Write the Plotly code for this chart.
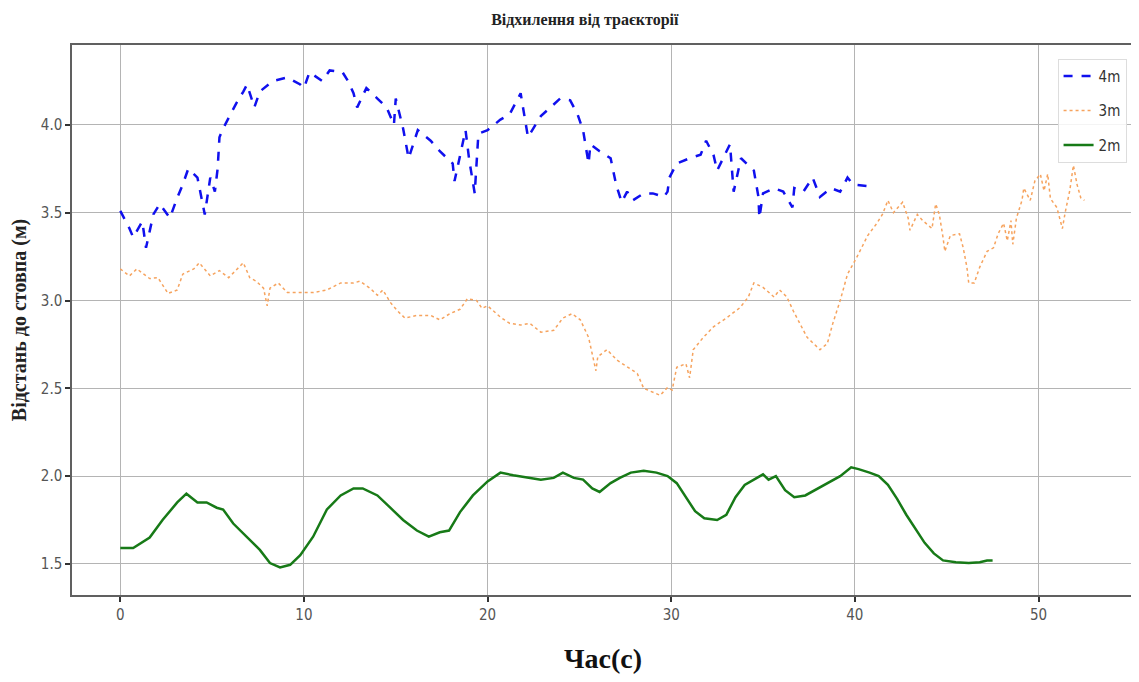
import plotly.graph_objects as go

# ---- data ----
t_4m = [0.0, 0.5, 0.7, 1.2, 1.4, 1.8, 2.15, 2.7, 3.1, 3.4, 3.7, 4.2, 4.6, 4.9, 5.15, 5.3, 5.4, 5.6, 6.0, 6.3,
        6.7, 6.9, 7.3, 7.6, 8.3, 9.1, 9.8, 10.0, 10.3, 11.0, 11.4, 12.1, 12.4, 12.7, 12.9, 13.4, 14.0, 14.5,
        14.9, 15.0, 15.4, 15.7, 16.2, 16.9, 17.4, 18.1, 18.2, 18.8, 19.0, 19.3, 19.5, 20.0, 20.7, 21.2, 21.8,
        22.2, 22.9, 23.4, 23.95, 24.5, 24.9, 25.2, 25.5, 25.6, 26.1, 26.7, 27.0, 27.3, 27.6, 27.9, 28.5, 29.0,
        29.6, 29.8, 29.9, 30.3, 31.0, 31.6, 31.9, 32.3, 32.5, 33.2, 33.4, 33.8, 34.5, 34.75, 34.8, 35.0, 35.6,
        36.1, 36.6, 36.7, 37.2, 37.7, 38.1, 38.7, 39.2, 39.6, 39.9, 40.8]
d_4m = [3.51, 3.41, 3.36, 3.45, 3.30, 3.49, 3.55, 3.47, 3.585, 3.66, 3.75, 3.70, 3.49, 3.70, 3.62, 3.75, 3.93,
        3.98, 4.06, 4.12, 4.19, 4.23, 4.10, 4.19, 4.25, 4.27, 4.23, 4.21, 4.30, 4.25, 4.31, 4.30, 4.25, 4.18,
        4.10, 4.21, 4.15, 4.10, 4.00, 4.15, 3.98, 3.81, 3.97, 3.91, 3.85, 3.78, 3.68, 3.97, 3.80, 3.61, 3.95,
        3.97, 4.03, 4.06, 4.18, 3.93, 4.05, 4.10, 4.15, 4.14, 4.06, 3.97, 3.78, 3.89, 3.85, 3.81, 3.66, 3.56,
        3.62, 3.57, 3.61, 3.61, 3.59, 3.62, 3.70, 3.78, 3.81, 3.83, 3.91, 3.83, 3.74, 3.89, 3.62, 3.81, 3.74,
        3.59, 3.47, 3.61, 3.64, 3.62, 3.53, 3.64, 3.62, 3.70, 3.59, 3.64, 3.62, 3.70, 3.66, 3.65]

t_3m = [0.0, 0.5, 0.9, 1.6, 2.05, 2.6, 3.1, 3.4, 4.0, 4.3, 4.9, 5.4, 5.9, 6.3, 6.7, 7.05, 7.4, 7.8, 8.0, 8.15,
        8.6, 9.1, 9.8, 10.5, 11.25, 12.0, 12.7, 13.05, 13.6, 14.0, 14.3, 14.7, 15.1, 15.5, 16.15, 16.9, 17.4,
        17.95, 18.5, 18.9, 19.4, 19.7, 20.0, 20.7, 21.2, 21.8, 22.3, 22.9, 23.6, 24.1, 24.6, 25.05, 25.5, 25.9,
        26.0, 26.5, 27.05, 27.6, 28.15, 28.5, 29.0, 29.4, 29.8, 30.05, 30.3, 30.8, 31.0, 31.2, 31.75, 32.3,
        33.0, 33.75, 34.2, 34.5, 35.0, 35.6, 35.9, 36.3, 36.65, 37.0, 37.4, 37.75, 38.1, 38.5, 38.8, 39.2,
        39.6, 40.1, 40.7, 41.2, 41.5, 41.8, 42.1, 42.6, 42.9, 43.0, 43.4, 43.7, 44.2, 44.4, 44.6, 44.8, 44.9,
        45.2, 45.7, 45.9, 46.1, 46.2, 46.5, 46.8, 47.2, 47.55, 47.8, 48.1, 48.3, 48.5, 48.6, 48.8, 49.1, 49.2,
        49.55, 49.8, 50.1, 50.3, 50.5, 50.65, 51.0, 51.3, 51.45, 51.7, 51.9, 52.1, 52.3, 52.5]
d_3m = [3.18, 3.14, 3.18, 3.125, 3.13, 3.04, 3.06, 3.15, 3.18, 3.215, 3.14, 3.17, 3.13, 3.17, 3.215, 3.13,
        3.11, 3.07, 2.97, 3.07, 3.10, 3.045, 3.045, 3.045, 3.06, 3.10, 3.10, 3.11, 3.07, 3.03, 3.06, 2.99,
        2.94, 2.90, 2.915, 2.915, 2.89, 2.925, 2.95, 3.01, 3.00, 2.955, 2.97, 2.905, 2.87, 2.86, 2.87, 2.82,
        2.83, 2.90, 2.925, 2.89, 2.79, 2.60, 2.68, 2.72, 2.66, 2.62, 2.585, 2.50, 2.48, 2.46, 2.505, 2.49,
        2.62, 2.64, 2.56, 2.72, 2.79, 2.85, 2.90, 2.96, 3.02, 3.10, 3.075, 3.02, 3.06, 3.02, 2.94, 2.87, 2.79,
        2.755, 2.72, 2.755, 2.87, 3.00, 3.15, 3.245, 3.37, 3.44, 3.49, 3.57, 3.50, 3.56, 3.47, 3.40, 3.49,
        3.455, 3.41, 3.55, 3.49, 3.36, 3.28, 3.37, 3.38, 3.30, 3.19, 3.10, 3.10, 3.19, 3.28, 3.30, 3.38, 3.44,
        3.34, 3.455, 3.32, 3.47, 3.57, 3.64, 3.57, 3.68, 3.72, 3.625, 3.72, 3.58, 3.53, 3.41, 3.50, 3.625,
        3.77, 3.66, 3.585, 3.57]

t_2m = [0.0, 0.7, 1.6, 2.3, 3.1, 3.6, 4.2, 4.7, 5.25, 5.6, 6.15, 6.9, 7.6, 8.15, 8.7, 9.25, 9.8, 10.5, 11.25,
        12.0, 12.7, 13.2, 14.0, 14.7, 15.4, 16.15, 16.8, 17.4, 17.9, 18.5, 19.2, 20.0, 20.7, 21.4, 22.1, 22.9,
        23.6, 24.1, 24.7, 25.2, 25.7, 26.1, 26.7, 27.2, 27.8, 28.5, 29.2, 29.8, 30.3, 30.8, 31.3, 31.8, 32.5,
        33.0, 33.5, 34.0, 34.5, 35.0, 35.3, 35.7, 36.2, 36.7, 37.3, 37.8, 38.5, 39.2, 39.8, 40.2, 40.8, 41.3,
        41.8, 42.3, 42.8, 43.3, 43.8, 44.3, 44.8, 45.5, 46.2, 46.8, 47.2, 47.5]
d_2m = [1.59, 1.59, 1.65, 1.75, 1.85, 1.90, 1.85, 1.85, 1.82, 1.81, 1.73, 1.655, 1.58, 1.505, 1.48, 1.495,
        1.55, 1.655, 1.81, 1.89, 1.93, 1.93, 1.89, 1.82, 1.75, 1.69, 1.655, 1.68, 1.69, 1.795, 1.89, 1.97,
        2.02, 2.005, 1.995, 1.98, 1.99, 2.02, 1.99, 1.98, 1.93, 1.91, 1.96, 1.99, 2.02, 2.03, 2.02, 2.00,
        1.96, 1.88, 1.80, 1.76, 1.75, 1.78, 1.88, 1.95, 1.98, 2.01, 1.98, 2.00, 1.92, 1.88, 1.89, 1.92, 1.96,
        2.00, 2.05, 2.04, 2.02, 2.00, 1.95, 1.87, 1.78, 1.70, 1.62, 1.56, 1.52, 1.51, 1.505, 1.51, 1.52, 1.52]

series_names = ["4m", "3m", "2m"]
x_ticks = [0, 10, 20, 30, 40, 50]
y_ticks = [1.5, 2.0, 2.5, 3.0, 3.5, 4.0]

fig = go.Figure()
fig.add_trace(go.Scatter(x=t_4m, y=d_4m, mode="lines", name=series_names[0], legendgroup="a",
                         line=dict(color="#1010ee", width=2.5, dash="dash")))
fig.add_trace(go.Scatter(x=t_3m, y=d_3m, mode="lines", name=series_names[1], legendgroup="b",
                         line=dict(color="#f6a35e", width=1.5, dash="dot")))
fig.add_trace(go.Scatter(x=t_2m, y=d_2m, mode="lines", name=series_names[2], legendgroup="c",
                         line=dict(color="#177a17", width=2.5)))

axis_common = dict(showgrid=True, gridcolor="#b4b4b4", gridwidth=1, zeroline=False, automargin=False,
                   showline=True, linecolor="#606060", linewidth=1.5, mirror=True,
                   ticks="outside", ticklen=5, tickcolor="#333", tickwidth=1.5,
                   tickfont=dict(family="DejaVu Sans Condensed, DejaVu Sans", size=15, color="#555"))

fig.update_layout(
    width=1131, height=674,
    paper_bgcolor="white", plot_bgcolor="white",
    margin=dict(l=64, r=5, t=37, b=87),
    title=dict(text="<b>Відхилення від траєкторії</b>", x=0.51, xanchor="center", y=0.983, yanchor="middle",
               font=dict(family="Liberation Serif, DejaVu Serif", size=16, color="#222")),
    xaxis=dict(range=[-2.63, 55.2], tickvals=x_ticks, ticktext=[str(v) for v in x_ticks],
               title=dict(text="<b>Час(с)</b>", standoff=26,
                          font=dict(family="Liberation Serif, DejaVu Serif", size=28, color="#111")),
               **axis_common),
    yaxis=dict(range=[1.323, 4.455], tickvals=y_ticks, ticktext=[f"{v:.1f}" for v in y_ticks],
               title=dict(text="<b>Відстань до стовпа (м)</b>", standoff=10,
                          font=dict(family="Liberation Serif, DejaVu Serif", size=20, color="#222")),
               **axis_common),
    legend=dict(x=0.993, y=0.975, xanchor="right", yanchor="top", bgcolor="rgba(255,255,255,0.85)",
                bordercolor="#dddddd", borderwidth=1, tracegroupgap=12,
                font=dict(family="DejaVu Sans Condensed, DejaVu Sans", size=15, color="#333")),
    showlegend=True,
)

fig.write_html("out.html")
